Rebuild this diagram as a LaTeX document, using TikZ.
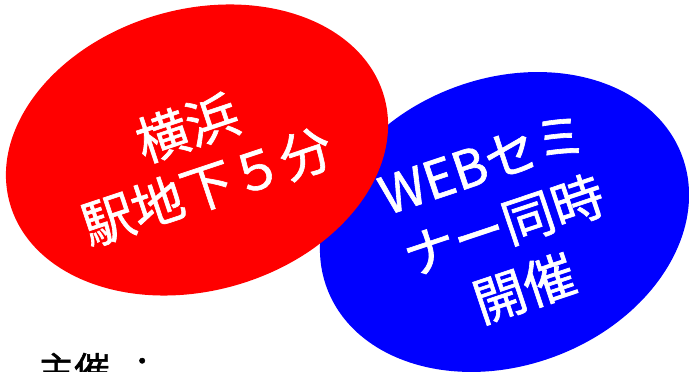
\documentclass[tikz,border=0pt]{standalone}
\usepackage{fontspec}
\newfontfamily\jp[FakeBold=1.2]{Noto Sans CJK JP}
\newfontfamily\jplight{Noto Sans CJK JP}
\definecolor{redfill}{RGB}{255,0,0}
\definecolor{bluefill}{RGB}{0,0,255}
\tikzset{
  bigtext/.style={text=white, align=center, font=\jp\fontsize{52}{62}\selectfont, inner sep=0pt},
  hosttext/.style={text=black, font=\jp\fontsize{36}{40}\selectfont, inner sep=0pt, anchor=base west}
}
\begin{document}
\begin{tikzpicture}[x=1pt,y=1pt]
\useasboundingbox (0,0) rectangle (689,372);
\fill[bluefill, rotate around={20.4:(504.5,150)}] (504.5,150) ellipse [x radius=189.5, y radius=143.6];
\fill[redfill, rotate around={16:(197,222)}] (197,222) ellipse [x radius=194.6, y radius=140.7];
\node[bigtext, rotate=18.5] (redtext) at (197,215) {横浜\\駅地下５分};
\node[bigtext, rotate=18.5, font=\jp\fontsize{52}{66}\selectfont] (bluetext) at (504,145) {WEBセミ\\ナー同時\\開催};
\node[hosttext] (host) at (38,-11) {主催\kern14pt：};
\end{tikzpicture}
\end{document}
